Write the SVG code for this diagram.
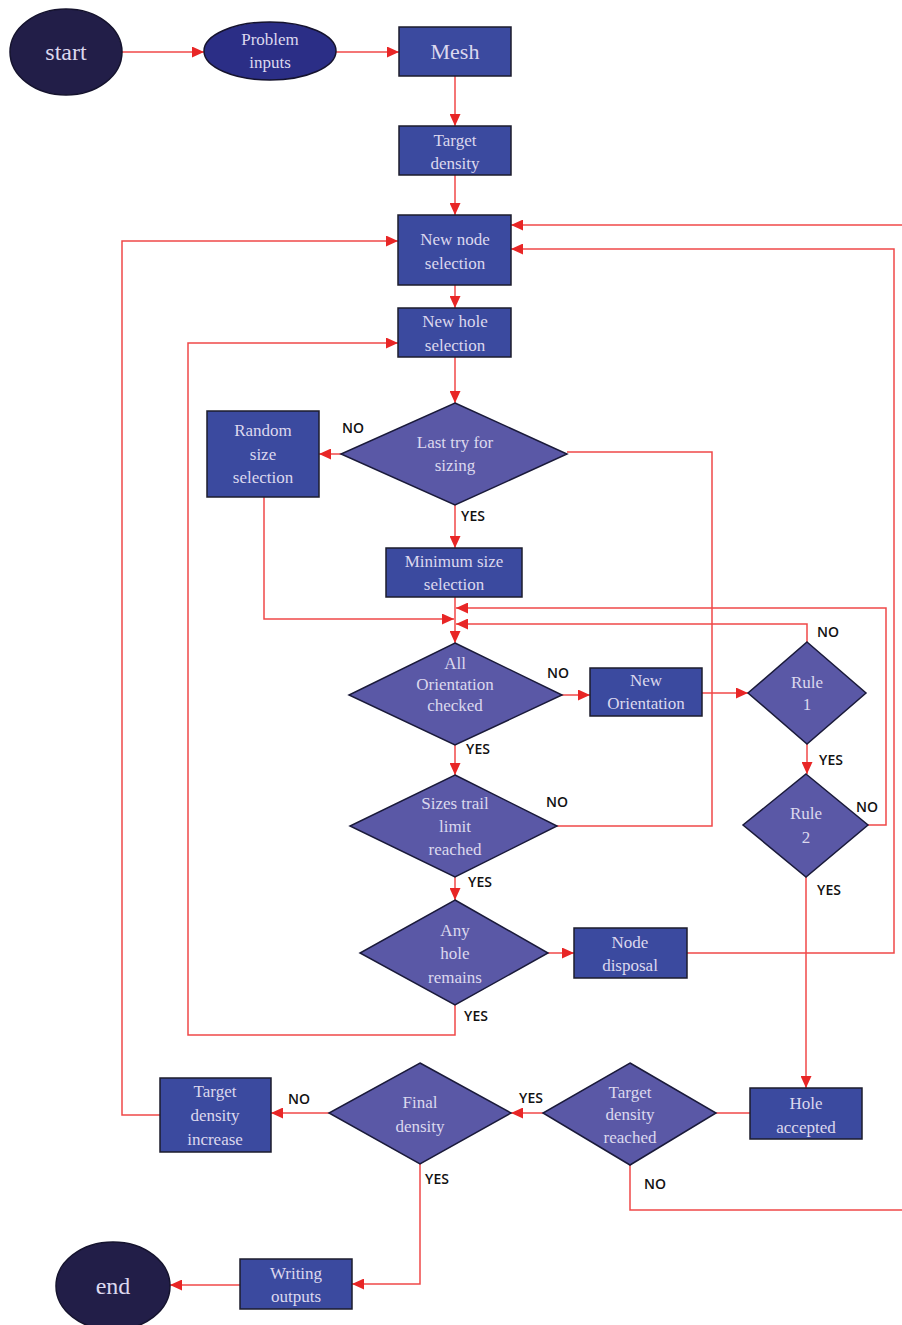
<svg xmlns="http://www.w3.org/2000/svg" width="902" height="1325" viewBox="0 0 902 1325">
<style>
.bg{fill:#ffffff}
.term{fill:#221e48;stroke:#15132e;stroke-width:1.5}
.oval{fill:#2b2e86;stroke:#15132e;stroke-width:1.5}
.box{fill:#3b4a9f;stroke:#1c1c2c;stroke-width:1.5}
.dia{fill:#5a58a6;stroke:#1a1a3a;stroke-width:1.5}
.t{font-family:"Liberation Serif","DejaVu Serif",serif;font-size:17px;fill:#dcd8ee;text-anchor:middle}
.big{font-size:24px}
.lbl{font-family:"Open Sans","Liberation Sans",sans-serif;font-size:14px;font-weight:600;fill:#111111;text-anchor:middle}
.c{fill:none;stroke:#f04848;stroke-width:1.5}
.a{marker-end:url(#ah)}
</style>
<defs>
<marker id="ah" markerUnits="userSpaceOnUse" markerWidth="12" markerHeight="11" refX="12" refY="5.5" orient="auto">
<path d="M0,0 L12,5.5 L0,11 z" fill="#e82626"/>
</marker>
</defs>
<rect class="bg" x="0" y="0" width="902" height="1325"/>

<g id="connectors">
<path class="c a" d="M122,52 H204"/>
<path class="c a" d="M336,52 H399"/>
<path class="c a" d="M455,76 V126"/>
<path class="c a" d="M455,175 V215"/>
<path class="c a" d="M902,225 H511"/>
<path class="c a" d="M455,285 V308"/>
<path class="c a" d="M455,357 V403"/>
<path class="c a" d="M341,454 H319"/>
<path class="c a" d="M455,505 V548"/>
<path class="c a" d="M455,597 V643"/>
<path class="c a" d="M264,497 V619 H454"/>
<path class="c a" d="M868,825 H886 V608 H456"/>
<path class="c a" d="M807,642 V624 H456"/>
<path class="c a" d="M562,695 H590"/>
<path class="c a" d="M702,693 H748"/>
<path class="c a" d="M807,744 V774"/>
<path class="c a" d="M455,745 V775"/>
<path class="c" d="M557,826 H712 V452 H567"/>
<path class="c a" d="M455,877 V900"/>
<path class="c a" d="M548,953 H574"/>
<path class="c a" d="M687,953 H894 V249 H511"/>
<path class="c a" d="M455,1005 V1035 H188 V343 H398"/>
<path class="c a" d="M806,877 V1088"/>
<path class="c" d="M750,1113 H716"/>
<path class="c a" d="M543,1113 H511"/>
<path class="c a" d="M329,1113 H271"/>
<path class="c a" d="M160,1115 H122 V241 H398"/>
<path class="c" d="M630,1165 V1210 H902"/>
<path class="c a" d="M420,1164 V1284 H352"/>
<path class="c a" d="M240,1285 H170"/>
</g>

<g id="edge-labels">
<text class="lbl" x="353" y="433">NO</text>
<text class="lbl" x="473" y="521">YES</text>
<text class="lbl" x="558" y="678">NO</text>
<text class="lbl" x="478" y="754">YES</text>
<text class="lbl" x="828" y="637">NO</text>
<text class="lbl" x="831" y="765">YES</text>
<text class="lbl" x="867" y="812">NO</text>
<text class="lbl" x="557" y="807">NO</text>
<text class="lbl" x="829" y="895">YES</text>
<text class="lbl" x="480" y="887">YES</text>
<text class="lbl" x="476" y="1021">YES</text>
<text class="lbl" x="299" y="1104">NO</text>
<text class="lbl" x="531" y="1103">YES</text>
<text class="lbl" x="655" y="1189">NO</text>
<text class="lbl" x="437" y="1184">YES</text>
</g>

<g id="start">
<ellipse class="term" cx="66" cy="52" rx="56" ry="43"/>
<text class="t big" x="66" y="60">start</text>
</g>
<g id="problem-inputs">
<ellipse class="oval" cx="270" cy="51" rx="66" ry="29"/>
<text class="t" x="270" y="45">Problem</text>
<text class="t" x="270" y="68">inputs</text>
</g>
<g id="mesh">
<rect class="box" x="399" y="27" width="112" height="49"/>
<text class="t" x="455" y="59" style="font-size:22px">Mesh</text>
</g>
<g id="target-density">
<rect class="box" x="399" y="126" width="112" height="49"/>
<text class="t" x="455" y="146">Target</text>
<text class="t" x="455" y="169">density</text>
</g>
<g id="new-node-selection">
<rect class="box" x="398" y="215" width="113" height="70"/>
<text class="t" x="455" y="245">New node</text>
<text class="t" x="455" y="269">selection</text>
</g>
<g id="new-hole-selection">
<rect class="box" x="398" y="308" width="113" height="49"/>
<text class="t" x="455" y="327">New hole</text>
<text class="t" x="455" y="351">selection</text>
</g>
<g id="last-try">
<polygon class="dia" points="455,403 567,454 455,505 341,454"/>
<text class="t" x="455" y="448">Last try for</text>
<text class="t" x="455" y="471">sizing</text>
</g>
<g id="random-size">
<rect class="box" x="207" y="411" width="112" height="86"/>
<text class="t" x="263" y="436">Random</text>
<text class="t" x="263" y="460">size</text>
<text class="t" x="263" y="483">selection</text>
</g>
<g id="minimum-size">
<rect class="box" x="386" y="548" width="136" height="49"/>
<text class="t" x="454" y="567">Minimum size</text>
<text class="t" x="454" y="590">selection</text>
</g>
<g id="all-orientation">
<polygon class="dia" points="455,643 562,695 455,745 349,695"/>
<text class="t" x="455" y="669">All</text>
<text class="t" x="455" y="690">Orientation</text>
<text class="t" x="455" y="711">checked</text>
</g>
<g id="new-orientation">
<rect class="box" x="590" y="668" width="112" height="48"/>
<text class="t" x="646" y="686">New</text>
<text class="t" x="646" y="709">Orientation</text>
</g>
<g id="rule-1">
<polygon class="dia" points="807,642 866,693 807,744 748,693"/>
<text class="t" x="807" y="688">Rule</text>
<text class="t" x="807" y="710">1</text>
</g>
<g id="rule-2">
<polygon class="dia" points="806,774 868,825 806,877 743,825"/>
<text class="t" x="806" y="819">Rule</text>
<text class="t" x="806" y="843">2</text>
</g>
<g id="sizes-trail">
<polygon class="dia" points="455,775 557,826 455,877 350,826"/>
<text class="t" x="455" y="809">Sizes trail</text>
<text class="t" x="455" y="832">limit</text>
<text class="t" x="455" y="855">reached</text>
</g>
<g id="any-hole">
<polygon class="dia" points="455,900 548,953 455,1005 360,953"/>
<text class="t" x="455" y="936">Any</text>
<text class="t" x="455" y="959">hole</text>
<text class="t" x="455" y="983">remains</text>
</g>
<g id="node-disposal">
<rect class="box" x="574" y="928" width="113" height="50"/>
<text class="t" x="630" y="948">Node</text>
<text class="t" x="630" y="971">disposal</text>
</g>
<g id="hole-accepted">
<rect class="box" x="750" y="1088" width="112" height="51"/>
<text class="t" x="806" y="1109">Hole</text>
<text class="t" x="806" y="1133">accepted</text>
</g>
<g id="target-density-reached">
<polygon class="dia" points="630,1063 716,1113 630,1165 543,1113"/>
<text class="t" x="630" y="1098">Target</text>
<text class="t" x="630" y="1120">density</text>
<text class="t" x="630" y="1143">reached</text>
</g>
<g id="final-density">
<polygon class="dia" points="420,1063 511,1113 420,1164 329,1113"/>
<text class="t" x="420" y="1108">Final</text>
<text class="t" x="420" y="1132">density</text>
</g>
<g id="target-density-increase">
<rect class="box" x="160" y="1078" width="111" height="74"/>
<text class="t" x="215" y="1097">Target</text>
<text class="t" x="215" y="1121">density</text>
<text class="t" x="215" y="1145">increase</text>
</g>
<g id="writing-outputs">
<rect class="box" x="240" y="1259" width="112" height="50"/>
<text class="t" x="296" y="1279">Writing</text>
<text class="t" x="296" y="1302">outputs</text>
</g>
<g id="end">
<ellipse class="term" cx="113" cy="1286" rx="57" ry="44"/>
<text class="t big" x="113" y="1294">end</text>
</g>
</svg>
